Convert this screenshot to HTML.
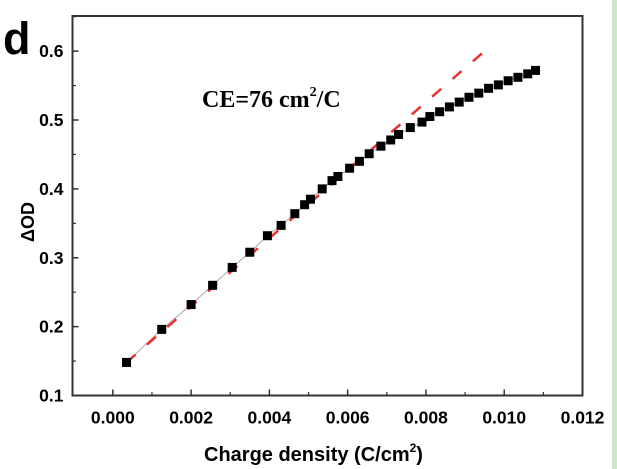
<!DOCTYPE html>
<html><head><meta charset="utf-8"><style>
html,body{margin:0;padding:0;background:#fff;}
svg{display:block;font-family:"Liberation Sans",sans-serif;}
</style></head><body>
<svg width="617" height="469" viewBox="0 0 617 469">
<rect x="612" y="0" width="5" height="469" fill="#cfe6cc"/>
<text x="3" y="54" font-size="45" font-weight="bold">d</text>
<g id="axes"></g>
<g id="marks"></g>
<text x="202" y="107" font-family="Liberation Serif,serif" font-weight="bold" font-size="24">CE=76 cm<tspan font-size="14" dy="-11">2</tspan><tspan dy="11">/C</tspan></text>
<text transform="translate(34,222) rotate(-90)" text-anchor="middle" font-size="18" font-weight="bold">ΔOD</text>
<text x="204" y="461" font-size="20" font-weight="bold">Charge density (C/cm<tspan font-size="12" dy="-9">2</tspan><tspan dy="9">)</tspan></text>
</svg>
<script>
const xs=[0.00035,0.00125,0.002,0.00255,0.00305,0.0035,0.00395,0.0043,0.00465,0.0049,0.00505,0.00535,0.0056,0.00575,0.00605,0.0063,0.00655,0.00685,0.0071,0.0073,0.0076,0.0079,0.0081,0.00835,0.0086,0.00885,0.0091,0.00935,0.0096,0.00985,0.0101,0.01035,0.0106,0.0108];
const ys=[0.148,0.196,0.232,0.26,0.286,0.308,0.332,0.347,0.364,0.377,0.385,0.40,0.412,0.418,0.43,0.44,0.451,0.462,0.471,0.479,0.489,0.497,0.505,0.512,0.519,0.526,0.533,0.539,0.546,0.551,0.557,0.562,0.567,0.572];
const fitX=[0.00035,0.0097];
const fitY=[0.148,0.61];
const xTicks=[0,0.002,0.004,0.006,0.008,0.010,0.012];
const xTickLabels=["0.000","0.002","0.004","0.006","0.008","0.010","0.012"];
const yTicks=[0.1,0.2,0.3,0.4,0.5,0.6];
const yTickLabels=["0.1","0.2","0.3","0.4","0.5","0.6"];
const NS="http://www.w3.org/2000/svg";
const L=72.5,R=582.5,T=16,B=395.5;
const xMin=-0.00103,xMax=0.0120,yMin=0.1,yMax=0.651;
const sx=v=>L+(v-xMin)/(xMax-xMin)*(R-L);
const sy=v=>B-(v-yMin)/(yMax-yMin)*(B-T);
function mk(tag,at,parent){const e=document.createElementNS(NS,tag);for(const k in at)e.setAttribute(k,at[k]);parent.appendChild(e);return e;}
const ax=document.getElementById('axes'),mg=document.getElementById('marks');
const fr=mk('rect',{x:L,y:T,width:R-L,height:B-T,fill:'none',stroke:'#333','stroke-width':2},ax);


xTicks.forEach((v,i)=>{
 const t=mk('line',{x1:sx(v),x2:sx(v),y1:B,y2:B-6,stroke:'#333','stroke-width':1.5},ax);
 
 
 if(i<xTicks.length-1){const m=mk('line',{x1:sx(v+0.001),x2:sx(v+0.001),y1:B,y2:B-3.5,stroke:'#333','stroke-width':1.2},ax);
 
 }
 const tx=mk('text',{x:sx(v),y:B+28,'text-anchor':'middle','font-size':17.5,'font-weight':'bold'},ax);tx.textContent=xTickLabels[i];
 
 
});
yTicks.forEach((v,i)=>{
 const t=mk('line',{x1:L,x2:L+6,y1:sy(v),y2:sy(v),stroke:'#333','stroke-width':1.5},ax);
 
 
 const m=mk('line',{x1:L,x2:L+3.5,y1:sy(v+0.05),y2:sy(v+0.05),stroke:'#333','stroke-width':1.2},ax);
 
 
 const tx=mk('text',{x:L-9,y:sy(v)+6,'text-anchor':'end','font-size':17.5,'font-weight':'bold'},ax);tx.textContent=yTickLabels[i];
 
 
});
const conn=mk('polyline',{points:xs.map((x,i)=>sx(x)+','+sy(ys[i])).join(' '),fill:'none',stroke:'#aaa','stroke-width':1},mg);


const fit=mk('line',{x1:sx(fitX[0]),y1:sy(fitY[0]),x2:sx(fitX[1]),y2:sy(fitY[1]),stroke:'#e8322f','stroke-width':2.5,'stroke-dasharray':'12 15'},mg);


xs.forEach((x,i)=>{
 const p=mk('rect',{x:sx(x)-4.5,y:sy(ys[i])-4.5,width:9,height:9,fill:'#000'},mg);
 
 
});
</script>
</body></html>
